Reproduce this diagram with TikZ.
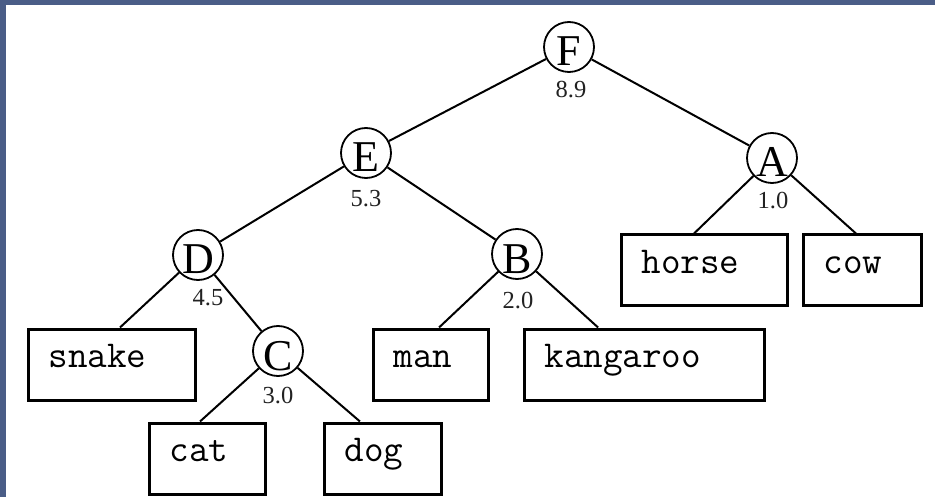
\documentclass[tikz,border=0pt]{standalone}
\usepackage{fontspec}
\usetikzlibrary{calc}
\newfontfamily\treefont{Liberation Serif}
\definecolor{frameblue}{HTML}{4A5D87}
\definecolor{wtgray}{HTML}{222222}
\begin{document}
\begin{tikzpicture}[x=1pt,y=-1pt,
  inode/.style={circle,draw,line width=1.8pt,minimum size=50pt,inner sep=0pt,
    font=\treefont\fontsize{44}{44}\selectfont,text height=38pt,text depth=0pt},
  leaf/.style={draw,line width=3pt,inner xsep=20pt,inner ysep=0pt,
    text height=38pt,text depth=33pt,align=left,
    font=\ttfamily\fontsize{38}{38}\selectfont},
  wt/.style={font=\treefont\fontsize{24.5}{24.5}\selectfont,inner sep=0pt,text=wtgray},
  edge/.style={line width=2pt}]
% frame and background
\fill[white] (0,0) rectangle (935,497);
\fill[frameblue] (0,0) rectangle (6,497);
\fill[frameblue] (0,0) rectangle (935,5);
\useasboundingbox (0,0) rectangle (935,497);

% inner nodes
\node[inode] (F) at (569,47) {F};
\node[inode] (E) at (366,153) {E};
\node[inode] (A) at (772,158) {A};
\node[inode] (D) at (198,255) {D};
\node[inode] (B) at (517,254) {B};
\node[inode] (C) at (278,351) {C};

% weights
\node[wt] (wF) at (571,90) {8.9};
\node[wt] (wE) at (366,199) {5.3};
\node[wt] (wA) at (773,201) {1.0};
\node[wt] (wD) at (208,298) {4.5};
\node[wt] (wB) at (518,301) {2.0};
\node[wt] (wC) at (278,396) {3.0};

% leaves
\node[leaf,text width=127pt] (snake) at (112,364.5) {snake};
\node[leaf,text width=76pt] (cat) at (207.5,458.5) {cat};
\node[leaf,text width=77pt] (dog) at (383,458.5) {dog};
\node[leaf,text width=75pt] (man) at (431,364.5) {man};
\node[leaf,text width=200pt] (kangaroo) at (644.5,364.5) {kangaroo};
\node[leaf,text width=126pt] (horse) at (704.5,270.5) {horse};
\node[leaf,text width=78pt] (cow) at (862.5,270.5) {cow};

% edges
\draw[edge] (F) -- (E);
\draw[edge] (F) -- (A);
\draw[edge] (E) -- (D);
\draw[edge] (E) -- (B);
\draw[edge] (D) -- (C);
\draw[edge] (D) -- ($(snake.north west)!0.547!(snake.north east)$);
\draw[edge] (C) -- ($(cat.north west)!0.437!(cat.north east)$);
\draw[edge] (C) -- ($(dog.north west)!0.308!(dog.north east)$);
\draw[edge] (B) -- ($(man.north west)!0.568!(man.north east)$);
\draw[edge] (B) -- ($(kangaroo.north west)!0.309!(kangaroo.north east)$);
\draw[edge] (A) -- ($(horse.north west)!0.438!(horse.north east)$);
\draw[edge] (A) -- ($(cow.north west)!0.446!(cow.north east)$);
\end{tikzpicture}
\end{document}
